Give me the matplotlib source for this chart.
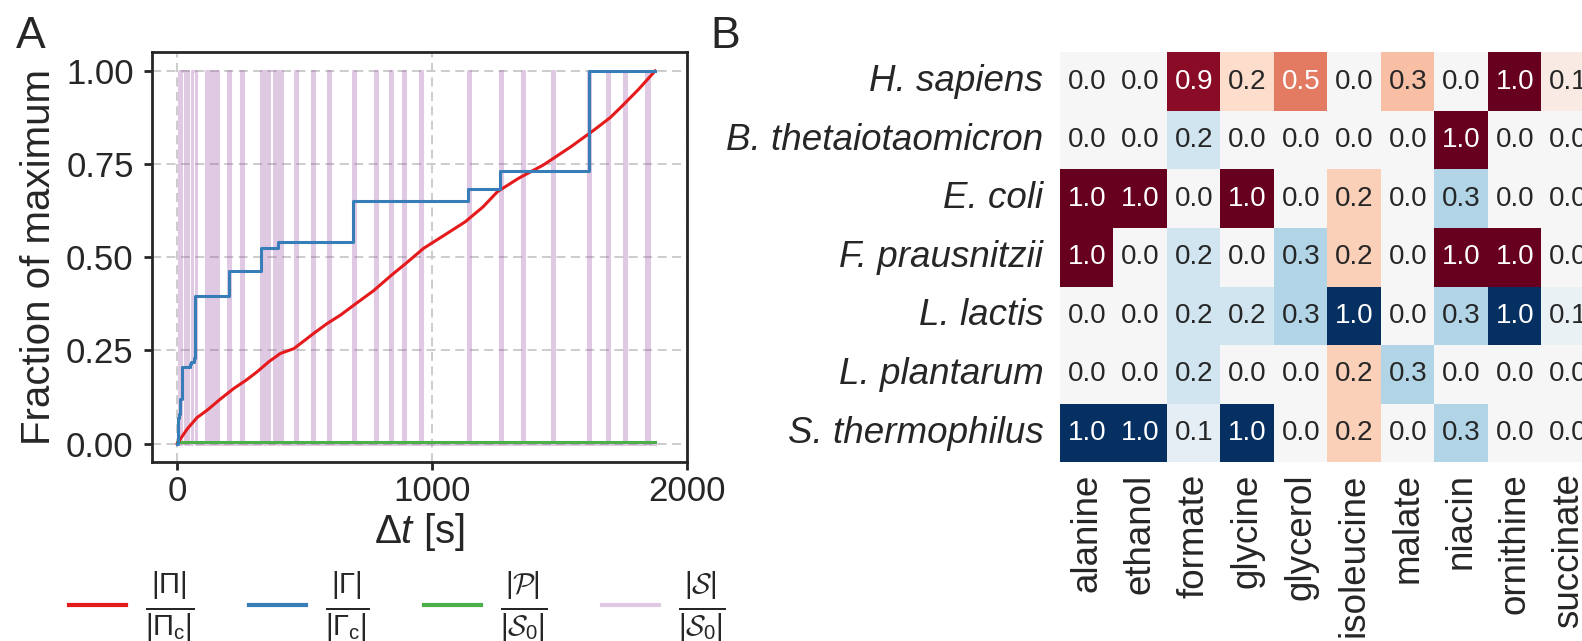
import numpy as np
import matplotlib
matplotlib.use("Agg")
import matplotlib.pyplot as plt
import seaborn as sns

plt.rcParams['font.family'] = ['Liberation Sans', 'DejaVu Sans']
plt.rcParams['mathtext.fontset'] = 'custom'
plt.rcParams['mathtext.rm'] = 'Liberation Sans'
plt.rcParams['mathtext.it'] = 'Liberation Sans:italic'
plt.rcParams['mathtext.cal'] = 'cmsy10'

# --- panel A: fractions over time ---
pi_t = [0, 20, 40, 78, 118, 170, 222, 270, 314, 360, 405, 458, 500, 536, 588, 641,
        696, 770, 841, 900, 967, 1050, 1130, 1200, 1257, 1340, 1438, 1546, 1637,
        1700, 1745, 1810, 1876]
pi_v = [0, 0.02, 0.04, 0.07, 0.09, 0.12, 0.148, 0.17, 0.193, 0.22, 0.242, 0.255,
        0.277, 0.296, 0.322, 0.345, 0.373, 0.41, 0.452, 0.485, 0.524, 0.56, 0.595,
        0.635, 0.676, 0.712, 0.748, 0.797, 0.842, 0.875, 0.905, 0.95, 1.0]

gamma_t = [0, 3, 6, 10, 18, 50, 56, 66, 70, 202, 330, 395, 690, 1140, 1268, 1618, 1876]
gamma_v = [0, 0.07, 0.08, 0.12, 0.205, 0.215, 0.22, 0.23, 0.397, 0.462, 0.524,
           0.541, 0.652, 0.683, 0.731, 1.0, 1.0]

p_t = [0, 1876]
p_v = [0.005, 0.005]

# intervals where |S|/|S0| sits at 1
s_on = [(6, 12), (16, 30), (34, 44), (58, 72), (112, 122), (132, 140), (152, 162),
        (198, 208), (250, 260), (330, 340), (350, 360), (380, 390), (400, 410),
        (462, 470), (528, 536), (590, 598), (690, 698), (778, 786), (834, 842),
        (885, 893), (954, 962), (1142, 1150), (1268, 1276), (1355, 1363),
        (1471, 1479), (1612, 1620), (1688, 1696), (1752, 1760), (1842, 1850)]
s_end = 1876

# --- panel B: heatmap ---
species = ["H. sapiens", "B. thetaiotaomicron", "E. coli", "F. prausnitzii",
           "L. lactis", "L. plantarum", "S. thermophilus"]
metabolites = ["alanine", "ethanol", "formate", "glycine", "glycerol",
               "isoleucine", "malate", "niacin", "ornithine", "succinate"]
scores = np.array([
    [0, 0, 0.9, 0.18, 0.52, 0, 0.3, 0, 1.0, 0.08],
    [0, 0, -0.2, 0, 0, 0, 0, 1.0, 0, 0],
    [1.0, 1.0, 0, 1.0, 0, 0.24, 0, -0.3, 0, 0],
    [1.0, 0, -0.2, 0, -0.3, 0.24, 0, 1.0, 1.0, 0],
    [0, 0, -0.2, -0.2, -0.3, -1.0, 0, -0.3, -1.0, -0.07],
    [0, 0, -0.2, 0, 0, 0.24, -0.3, 0, 0, 0],
    [-1.0, -1.0, -0.1, -1.0, 0, 0.24, 0, -0.3, 0, 0],
])

pal = sns.color_palette("Set1")
red, blue, green, purple = pal[0], pal[1], pal[2], pal[3]
ink = '#262626'

fig = plt.figure(figsize=(15.82, 6.41), dpi=100)
ax = fig.add_axes([0.0959, 0.2788, 0.3382, 0.6396])

st, sv = [0], [0]
for a, b in s_on:
    st += [a, a, b, b]
    sv += [0, 1, 1, 0]
st.append(s_end)
sv.append(0)

l_s, = ax.plot(st, sv, color=purple, alpha=0.3, lw=2.2, zorder=2)
l_p, = ax.plot(p_t, p_v, color=green, lw=2.2, zorder=4)
l_pi, = ax.plot(pi_t, pi_v, color=red, lw=2.2, zorder=4)
l_g, = ax.plot(gamma_t, gamma_v, color=blue, lw=2.2, drawstyle='steps-post', zorder=5)

ax.set_xlim(-100, 2000)
ax.set_ylim(-0.05, 1.05)
ax.set_xticks([0, 1000, 2000])
ax.set_yticks([0, 0.25, 0.5, 0.75, 1.0])
ax.set_yticklabels(["0.00", "0.25", "0.50", "0.75", "1.00"])
ax.grid(True, ls='--', color='#c8c8c8', lw=1.3, dashes=(5, 3))
ax.set_axisbelow(True)
for s in ax.spines.values():
    s.set_linewidth(2)
    s.set_color(ink)
ax.tick_params(labelsize=25, length=6, width=2, colors=ink)
ax.tick_params(axis='x', pad=3)
ax.tick_params(axis='y', pad=7)
ax.set_xlabel(r"$\Delta t$ [s]", fontsize=29, labelpad=2, color=ink)
ax.set_ylabel("Fraction of maximum", fontsize=29, labelpad=6, color=ink)

leg = fig.legend([l_pi, l_g, l_p, l_s],
                 [r"$\frac{|\Pi|}{|\Pi_\mathrm{c}|}$", r"$\frac{|\Gamma|}{|\Gamma_\mathrm{c}|}$",
                  r"$\frac{|\mathcal{P}|}{|\mathcal{S}_0|}$",
                  r"$\frac{|\mathcal{S}|}{|\mathcal{S}_0|}$"],
                 loc='center', bbox_to_anchor=(0.251, 0.053), ncol=4, frameon=False,
                 fontsize=30, handlelength=1.37, columnspacing=1.3, handletextpad=0.46,
                 labelcolor=ink)
for h in leg.legend_handles:
    h.set_linewidth(3)

# heatmap
axh = fig.add_axes([0.670, 0.2788, 0.3382, 0.6396])
sns.heatmap(scores, ax=axh, cmap="RdBu_r", vmin=-1, vmax=1, cbar=False,
            annot=np.abs(scores), fmt=".1f", annot_kws={"fontsize": 20},
            xticklabels=metabolites, yticklabels=species)
axh.tick_params(length=0, labelsize=26.5, colors=ink)
axh.tick_params(axis='x', pad=8)
axh.tick_params(axis='y', pad=12)
axh.set_yticklabels(species, rotation=0, style='italic')
axh.set_xticklabels(metabolites, rotation=90)

fig.text(0.010, 0.975, "A", fontsize=32, va='top', color=ink)
fig.text(0.449, 0.975, "B", fontsize=32, va='top', color=ink)

fig.savefig("out.png", dpi=100)
